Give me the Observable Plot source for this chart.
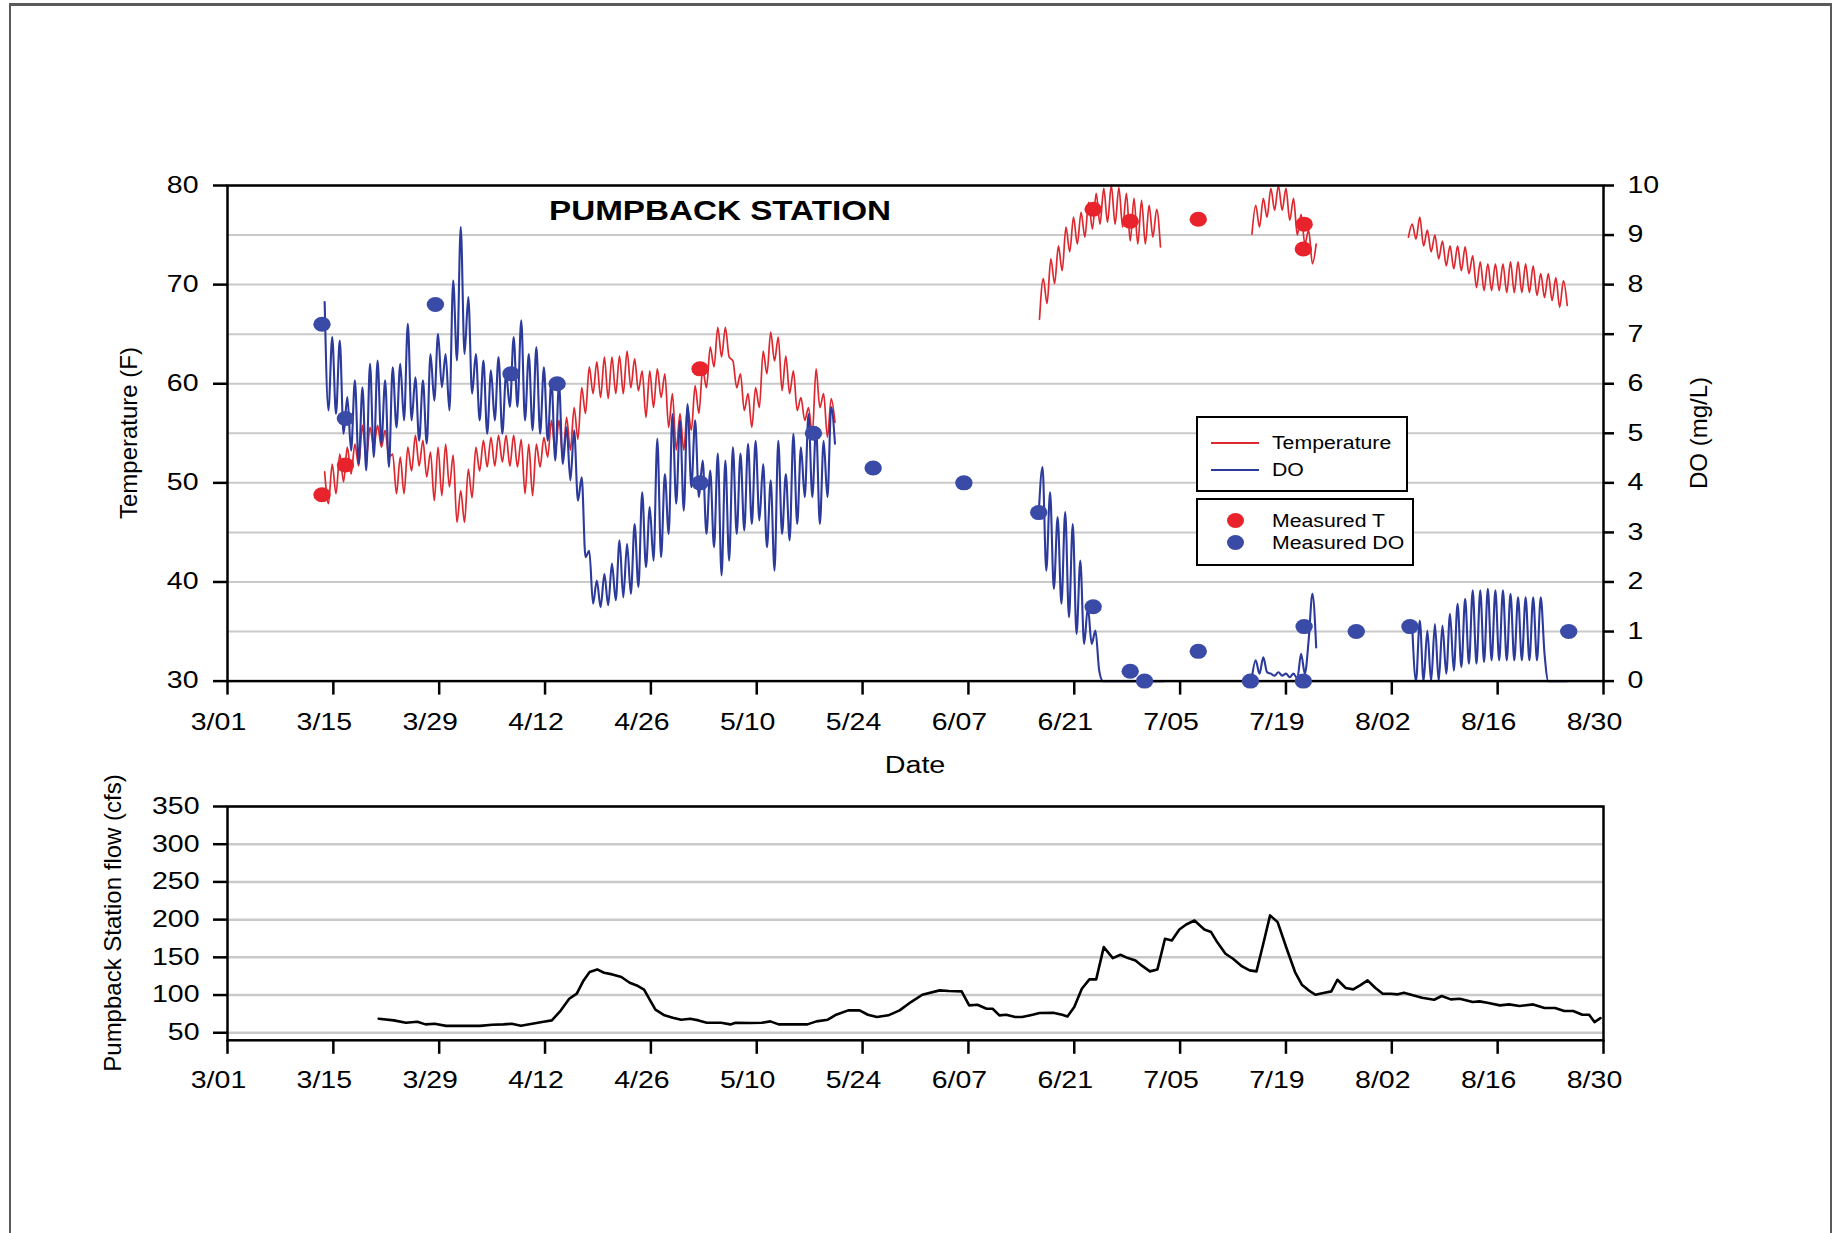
<!DOCTYPE html>
<html>
<head>
<meta charset="utf-8">
<script src="https://cdn.jsdelivr.net/npm/d3@7"></script>
<script src="https://cdn.jsdelivr.net/npm/@observablehq/plot@0.6"></script>
<style>
  html, body { margin:0; padding:0; background:#fff; }
  #page { position:relative; width:1843px; height:1233px; overflow:hidden; background:#fff;
          font-family:"Liberation Sans", Arial, Helvetica, sans-serif; color:#000; }
  #page svg { position:absolute; left:0; }
  .t { position:absolute; white-space:nowrap; line-height:1; color:#000; }
  .pageframe { position:absolute; left:9px; top:3px; width:1823px; height:1300px;
               border-left:2px solid #5a5a5a; border-top:3px solid #5a5a5a; border-right:2px solid #5a5a5a;
               box-sizing:border-box; pointer-events:none; }
  .lgbox { position:absolute; border:2.5px solid #000; box-sizing:border-box; background:#fff; }
  .lgline { position:absolute; height:2px; }
  .lgdot { position:absolute; width:17px; height:15px; border-radius:50%; }
</style>
</head>
<body>
<div id="page"></div>
<script>
// ---------------- DATA ----------------
// x positions are days after 3/01
const dateLabels = ["3/01","3/15","3/29","4/12","4/26","5/10","5/24","6/07","6/21","7/05","7/19","8/02","8/16","8/30"];
const tickDays = [0,14,28,42,56,70,84,98,112,126,140,154,168,182];
const tempTicks = [30,40,50,60,70,80];
const doTicks = [0,1,2,3,4,5,6,7,8,9,10];
const flowTicks = [50,100,150,200,250,300,350];

// logger records: readings every half day (alternating daily low / high)
const HALF_DAY = 0.5;

// Temperature (F)
const tempSeg1Start = 12.85;
const tempSeg1 = [
  51.1,47.9,51.9,48.9,52.9,50.1,53.6,50.9,53.9,51.7,
  55.8,52.4,55.6,53.6,55.8,53.6,55.3,52.6,52.9,48.9,
  52.6,48.9,53.6,51.2,54.8,51.7,54.3,50.6,53.1,48.2,
  53.6,48.7,53.9,49.6,52.8,46.0,49.2,46.0,51.4,48.5,
  53.6,51.2,54.3,51.6,54.6,51.7,54.8,52.1,54.8,51.7,
  54.8,51.6,54.4,48.9,53.9,48.7,53.9,51.6,54.6,52.6,
  56.3,53.1,56.3,52.6,56.6,53.3,57.6,54.4,59.6,57.0,
  61.7,59.0,62.2,58.6,62.7,58.5,62.7,59.0,62.8,59.0,
  63.3,59.6,62.5,59.3,61.3,56.6,61.3,57.6,61.5,58.6,
  61.0,55.6,59.0,53.3,57.0,53.3,57.6,55.3,59.8,57.0,
  61.5,59.6,63.7,61.7,65.7,62.7,65.7,62.7,62.3,59.6,
  61.0,57.3,59.0,55.6,59.6,57.6,63.3,61.0,65.2,62.3,
  64.7,59.3,62.8,59.0,61.3,57.3,58.6,56.3,57.6,54.9,
  61.5,57.6,59.0,54.6,58.5,56.1
];
const tempSeg2Start = 107.4;
const tempSeg2 = [66.5,70.6,68.1,72.6,70.1,73.9,71.4,75.8,73.3,76.8,74.1,77.3,74.8,78.3,75.6,79.2,
  76.1,79.7,76.3,80.0,76.1,79.8,75.8,79.2,74.4,78.7,74.1,78.5,74.1,78.0,74.8,77.6,73.8];
const tempSeg3Start = 135.5;
const tempSeg3 = [75.1,78.0,75.8,78.7,76.8,79.7,77.5,80.0,77.5,79.7,76.5,78.7,75.0,77.1,74.1,75.5,72.1,74.1];
const tempSeg4Start = 156.2;
const tempSeg4 = [74.8,76.1,74.6,76.8,73.9,75.5,73.3,75.0,72.6,74.4,71.9,73.9,71.6,73.9,71.4,73.8,
  71.1,72.9,69.7,72.3,69.4,72.1,69.4,72.1,69.4,72.1,69.2,72.3,69.2,72.3,69.2,72.1,69.2,71.9,
  68.9,71.1,68.7,71.1,68.4,70.7,67.7,70.4,67.9];

// Dissolved oxygen (mg/L)
const doSeg1Start = 12.85;
const doSeg1 = [
  7.65,5.46,6.94,5.39,6.87,4.99,5.73,4.65,6.07,4.38,
  5.93,4.25,6.40,4.52,6.47,4.79,6.07,4.32,6.33,5.12,
  6.40,5.26,7.21,5.26,6.13,4.85,6.07,4.79,6.60,5.66,
  7.01,5.93,6.60,5.46,8.08,6.47,9.16,6.60,7.75,5.80,
  6.60,5.26,6.47,4.99,6.27,5.26,6.54,4.99,6.20,5.53,
  6.94,5.53,7.28,5.26,6.60,5.06,6.74,4.99,6.33,4.85,
  6.07,4.45,6.00,4.38,5.12,4.05,5.06,3.64,4.11,2.50,
  2.63,1.56,2.03,1.49,2.16,1.53,2.37,1.63,2.84,1.69,
  2.77,1.76,3.17,1.90,3.81,2.30,3.51,2.43,4.89,2.50,
  4.18,2.97,5.39,3.58,5.26,3.44,5.59,3.91,5.26,3.71,
  4.45,2.97,4.25,2.70,4.59,2.13,4.45,2.43,4.72,2.97,
  4.59,3.04,4.79,3.17,4.85,3.24,4.38,2.70,4.05,2.23,
  4.85,2.97,4.18,2.84,4.99,3.17,4.72,3.71,5.39,3.71,
  5.12,3.17,4.85,3.71,5.53,4.79
];
const doSeg2Start = 107.3;
const doSeg2 = [3.38,4.32,2.23,3.81,1.86,3.31,1.56,3.41,1.29,3.17,0.95,2.43,0.75,1.49,0.75,1.02,0.21,
  0,0,0,0,0,0,0,0,0,0,0,0,0,0,0,0,0];
const doSeg3Start = 135.5;
const doSeg3 = [0.08,0.42,0.15,0.48,0.18,0.15,0.11,0.18,0.11,0.15,0.08,0.15,0.05,0.55,0.15,0.82,1.76,0.68];
const doSeg4Start = 156.7;
const doSeg4 = [1.1,0,1.22,0,1.02,0,1.15,0,1.12,0.15,1.36,0.21,1.56,0.28,1.66,0.35,1.83,0.35,1.83,0.38,
  1.86,0.42,1.83,0.42,1.83,0.42,1.76,0.42,1.69,0.42,1.69,0.42,1.69,0.42,1.69,0.55,0,0,0,0,0,0];

// Grab samples
const measTDay = [12.5, 15.6, 62.5, 114.5, 119.4, 128.4, 142.4, 142.3];
const measTVal = [48.8, 51.8, 61.5, 77.6, 76.4, 76.6, 76.1, 73.6];
const measDODay = [12.5, 15.6, 27.5, 37.5, 43.6, 62.5, 77.5, 85.4, 97.4, 107.3, 114.5, 119.4, 121.3,
  128.4, 135.3, 142.4, 142.3, 149.3, 156.4, 177.4];
const measDOVal = [7.2, 5.3, 7.6, 6.2, 6.0, 4.0, 5.0, 4.3, 4.0, 3.4, 1.5, 0.2, 0.0,
  0.6, 0.0, 1.1, 0.0, 1.0, 1.1, 1.0];

// Pumpback station flow (cfs)
const flowDay = [20.0,22.0,23.6,25.1,26.2,27.4,28.9,31.2,33.4,35.0,
  36.5,37.6,38.8,40.3,41.8,42.9,44.1,45.2,46.2,47.1,
  47.9,48.9,49.8,50.9,52.1,53.2,54.3,55.1,55.9,56.6,
  57.8,58.9,60.0,61.2,62.3,63.4,65.3,66.5,67.2,69.1,
  70.7,71.8,72.9,76.7,77.9,79.4,80.5,82.1,83.6,84.7,
  85.9,87.4,88.9,90.4,91.9,94.2,95.4,97.1,98.1,99.2,
  100.4,101.2,102.1,103.0,104.2,105.1,106.5,107.4,109.2,110.4,
  111.1,112.0,113.0,114.0,114.9,115.9,117.1,118.1,119.1,120.1,
  120.9,122.0,123.0,124.0,124.9,125.9,126.8,127.9,129.2,130.1,
  130.9,132.0,133.0,134.2,135.2,136.1,137.0,137.9,138.9,140.1,
  141.2,142.1,143.0,143.9,145.1,146.0,146.8,147.9,148.9,149.8,
  150.8,151.8,152.8,153.9,154.8,155.6,156.8,158.0,159.6,160.6,
  161.8,163.0,164.7,165.6,166.8,168.3,169.5,170.9,172.7,174.2,
  175.6,176.8,178.0,179.2,180.1,180.8,181.6];
const flowCfs = [68.6,66.4,63.3,64.7,61.1,62.0,59.1,59.1,59.1,60.7,
  61.1,62.0,59.4,62.0,64.7,66.4,79.7,95.1,101.8,119.4,
  130.5,134.0,129.6,127.4,123.9,116.3,111.9,107.1,92.9,80.6,
  73.1,70.0,67.3,68.6,66.4,63.3,63.3,61.1,63.3,62.9,
  63.3,65.1,61.1,61.1,65.1,67.3,73.9,79.7,79.7,73.9,
  70.8,73.1,79.7,90.7,100.4,106.2,105.3,104.9,86.3,87.2,
  81.9,81.9,73.1,73.9,70.8,70.8,73.9,76.1,76.6,73.9,
  71.7,84.1,108.4,120.8,120.8,163.6,149.0,153.4,149.0,145.9,
  139.3,131.4,134.0,174.6,172.4,187.0,193.6,198.9,187.0,183.5,
  170.2,154.8,148.1,138.0,132.7,131.4,168.0,205.6,196.7,161.4,
  130.5,113.7,106.2,100.4,103.1,104.9,120.3,109.3,107.5,112.8,
  119.4,109.7,101.8,101.8,100.9,103.1,99.6,96.5,93.8,98.7,
  94.3,95.1,90.7,91.6,89.4,86.3,87.6,85.4,87.6,82.8,
  82.8,78.8,78.8,73.9,73.9,64.2,69.5];

// ---------------- BUILD ----------------
const seg = (name, start, vals) => vals.map((v, i) => ({seg: name, day: start + i * HALF_DAY, v}));
const tempRows = [...seg("t1", tempSeg1Start, tempSeg1), ...seg("t2", tempSeg2Start, tempSeg2),
                  ...seg("t3", tempSeg3Start, tempSeg3), ...seg("t4", tempSeg4Start, tempSeg4)];
const doRows = [...seg("d1", doSeg1Start, doSeg1), ...seg("d2", doSeg2Start, doSeg2),
                ...seg("d3", doSeg3Start, doSeg3), ...seg("d4", doSeg4Start, doSeg4)];
const measT = measTDay.map((d, i) => ({day: d, v: measTVal[i]}));
const measDO = measDODay.map((d, i) => ({day: d, v: measDOVal[i]}));
const flowRows = flowDay.map((d, i) => ({day: d, cfs: flowCfs[i]}));

// DO (0-10) shares the vertical extent of temperature (30-80)
const doToT = v => 30 + 5 * v;

const FONT = '"Liberation Sans", Arial, Helvetica, sans-serif';
const RED_LINE = "#dc282e", BLUE_LINE = "#2c3a9c", RED_DOT = "#e8232b", BLUE_DOT = "#3a4ba7";
const GRID = "#c9c9c9";
const baseStyle = {fontFamily: FONT, fontSize: "23px", color: "#000", background: "transparent", overflow: "visible"};

const topPlot = Plot.plot({
  width: 1843, height: 790,
  marginLeft: 227, marginRight: 240, marginTop: 185, marginBottom: 109.4,
  x: {type: "linear", domain: [0, 182]},
  y: {type: "linear", domain: [30, 80]},
  style: baseStyle,
  marks: [
    Plot.gridY(doTicks.map(doToT), {stroke: GRID, strokeOpacity: 1, strokeWidth: 2}),
    Plot.line(tempRows, {x: "day", y: "v", z: "seg", stroke: RED_LINE, strokeWidth: 1.7, curve: "monotone-x"}),
    Plot.line(doRows, {x: "day", y: d => doToT(d.v), z: "seg", stroke: BLUE_LINE, strokeWidth: 2.1, curve: "monotone-x"}),
    Plot.frame({stroke: "#000", strokeWidth: 2.5}),
    Plot.dot(measT, {x: "day", y: "v", r: 7.5, fill: RED_DOT}),
    Plot.dot(measDO, {x: "day", y: d => doToT(d.v), r: 7.5, fill: BLUE_DOT}),
    Plot.axisX({ticks: tickDays, tickSize: 14, tickFormat: () => "", strokeWidth: 2.5, label: null}),
    Plot.axisX({ticks: tickDays, tickSize: 0, tickPadding: 33, dx: -9, fontSize: 23,
                tickFormat: d => dateLabels[tickDays.indexOf(d)], label: null}),
    Plot.axisY({ticks: tempTicks, tickSize: 14, tickPadding: 15, fontSize: 23, strokeWidth: 2.5,
                tickFormat: d => String(d), label: null}),
    Plot.axisY({anchor: "right", ticks: doTicks.map(doToT), tickSize: 10, tickPadding: 14, fontSize: 23,
                strokeWidth: 2.5, tickFormat: d => String(Math.round((d - 30) / 5)), label: null})
  ]
});

const bottomPlot = Plot.plot({
  width: 1843, height: 443,
  marginLeft: 227, marginRight: 240, marginTop: 16, marginBottom: 193.2,
  x: {type: "linear", domain: [0, 182]},
  y: {type: "linear", domain: [40, 350]},
  style: baseStyle,
  marks: [
    Plot.gridY(flowTicks, {stroke: GRID, strokeOpacity: 1, strokeWidth: 2.5}),
    Plot.frame({stroke: "#000", strokeWidth: 2.5}),
    Plot.line(flowRows, {x: "day", y: "cfs", stroke: "#000", strokeWidth: 2.6}),
    Plot.axisX({ticks: tickDays, tickSize: 14, tickFormat: () => "", strokeWidth: 2.5, label: null}),
    Plot.axisX({ticks: tickDays, tickSize: 0, tickPadding: 31, dx: -9, fontSize: 23,
                tickFormat: d => dateLabels[tickDays.indexOf(d)], label: null}),
    Plot.axisY({ticks: flowTicks, tickSize: 14, tickPadding: 14, fontSize: 23, strokeWidth: 2.5,
                tickFormat: d => String(d), label: null})
  ]
});

const page = document.getElementById("page");
topPlot.style.top = "0px";
bottomPlot.style.top = "790px";
page.appendChild(topPlot);
page.appendChild(bottomPlot);

// the reference's lettering is slightly wide; stretch non-rotated SVG text horizontally
function stretchTexts(svg, s) {
  svg.querySelectorAll("text").forEach(t => {
    const tr = t.getAttribute("transform") || "";
    if (tr.includes("rotate") || !t.textContent) return;
    const bb = t.getBBox();
    const anchor = getComputedStyle(t).textAnchor;
    const ax = anchor === "middle" ? bb.x + bb.width / 2 : anchor === "end" ? bb.x + bb.width : bb.x;
    t.setAttribute("transform", `${tr} translate(${ax},0) scale(${s},1) translate(${-ax},0)`);
  });
}
function stretchDots(svg, s) {
  svg.querySelectorAll("circle").forEach(c => {
    const cx = +c.getAttribute("cx") || 0, cy = +c.getAttribute("cy") || 0;
    const tr = c.getAttribute("transform") || "";
    c.setAttribute("transform", `${tr} translate(${cx},${cy}) scale(${s},1) translate(${-cx},${-cy})`);
  });
}
stretchTexts(topPlot, 1.24);
stretchTexts(bottomPlot, 1.24);
stretchDots(topPlot, 1.16);

// ---------------- HTML TEXT & LEGEND ----------------
function addText(txt, o) {
  const el = document.createElement("div");
  el.className = "t";
  el.textContent = txt;
  el.style.fontSize = o.fs + "px";
  if (o.bold) el.style.fontWeight = "bold";
  if (o.rotate) {
    el.style.left = o.cx + "px";
    el.style.top = o.cy + "px";
    el.style.transform = "translate(-50%,-50%) rotate(-90deg)";
  } else {
    el.style.top = (o.baseline - 0.8465 * o.fs) + "px";
    el.style.left = o.x + "px";
    const sx = o.sx || 1;
    if (o.anchor === "middle") {
      el.style.transform = `translateX(-50%) scaleX(${sx})`;
    } else {
      el.style.transformOrigin = "left center";
      el.style.transform = `scaleX(${sx})`;
    }
  }
  page.appendChild(el);
  return el;
}
function addBox(cls, left, top, w, h, color) {
  const el = document.createElement("div");
  el.className = cls;
  el.style.left = left + "px"; el.style.top = top + "px";
  if (w != null) el.style.width = w + "px";
  if (h != null) el.style.height = h + "px";
  if (color) el.style.background = color;
  page.appendChild(el);
  return el;
}

addText("PUMPBACK STATION", {x: 720, baseline: 221, fs: 27, bold: true, anchor: "middle", sx: 1.23});
addText("Date", {x: 915, baseline: 773.5, fs: 23, anchor: "middle", sx: 1.25});
addText("Temperature (F)", {rotate: true, cx: 129, cy: 433, fs: 24});
addText("DO (mg/L)", {rotate: true, cx: 1699, cy: 433, fs: 24});
addText("Pumpback Station flow (cfs)", {rotate: true, cx: 113, cy: 923, fs: 24});

// legend boxes
addBox("lgbox", 1196, 416, 212, 76);
addBox("lgbox", 1196, 498, 218, 68);
addBox("lgline", 1211, 441.5, 48, null, RED_LINE);
addBox("lgline", 1211, 468.5, 48, null, BLUE_LINE);
addBox("lgdot", 1226.5, 512.5, null, null, RED_DOT);
addBox("lgdot", 1226.5, 535.2, null, null, BLUE_DOT);
addText("Temperature", {x: 1271.5, baseline: 449.7, fs: 18, sx: 1.18});
addText("DO", {x: 1271.5, baseline: 476.2, fs: 18, sx: 1.18});
addText("Measured T", {x: 1271.5, baseline: 527, fs: 18, sx: 1.18});
addText("Measured DO", {x: 1271.5, baseline: 549, fs: 18, sx: 1.18});

// thin page frame of the original figure
const pf = document.createElement("div");
pf.className = "pageframe";
page.appendChild(pf);
</script>
</body>
</html>
